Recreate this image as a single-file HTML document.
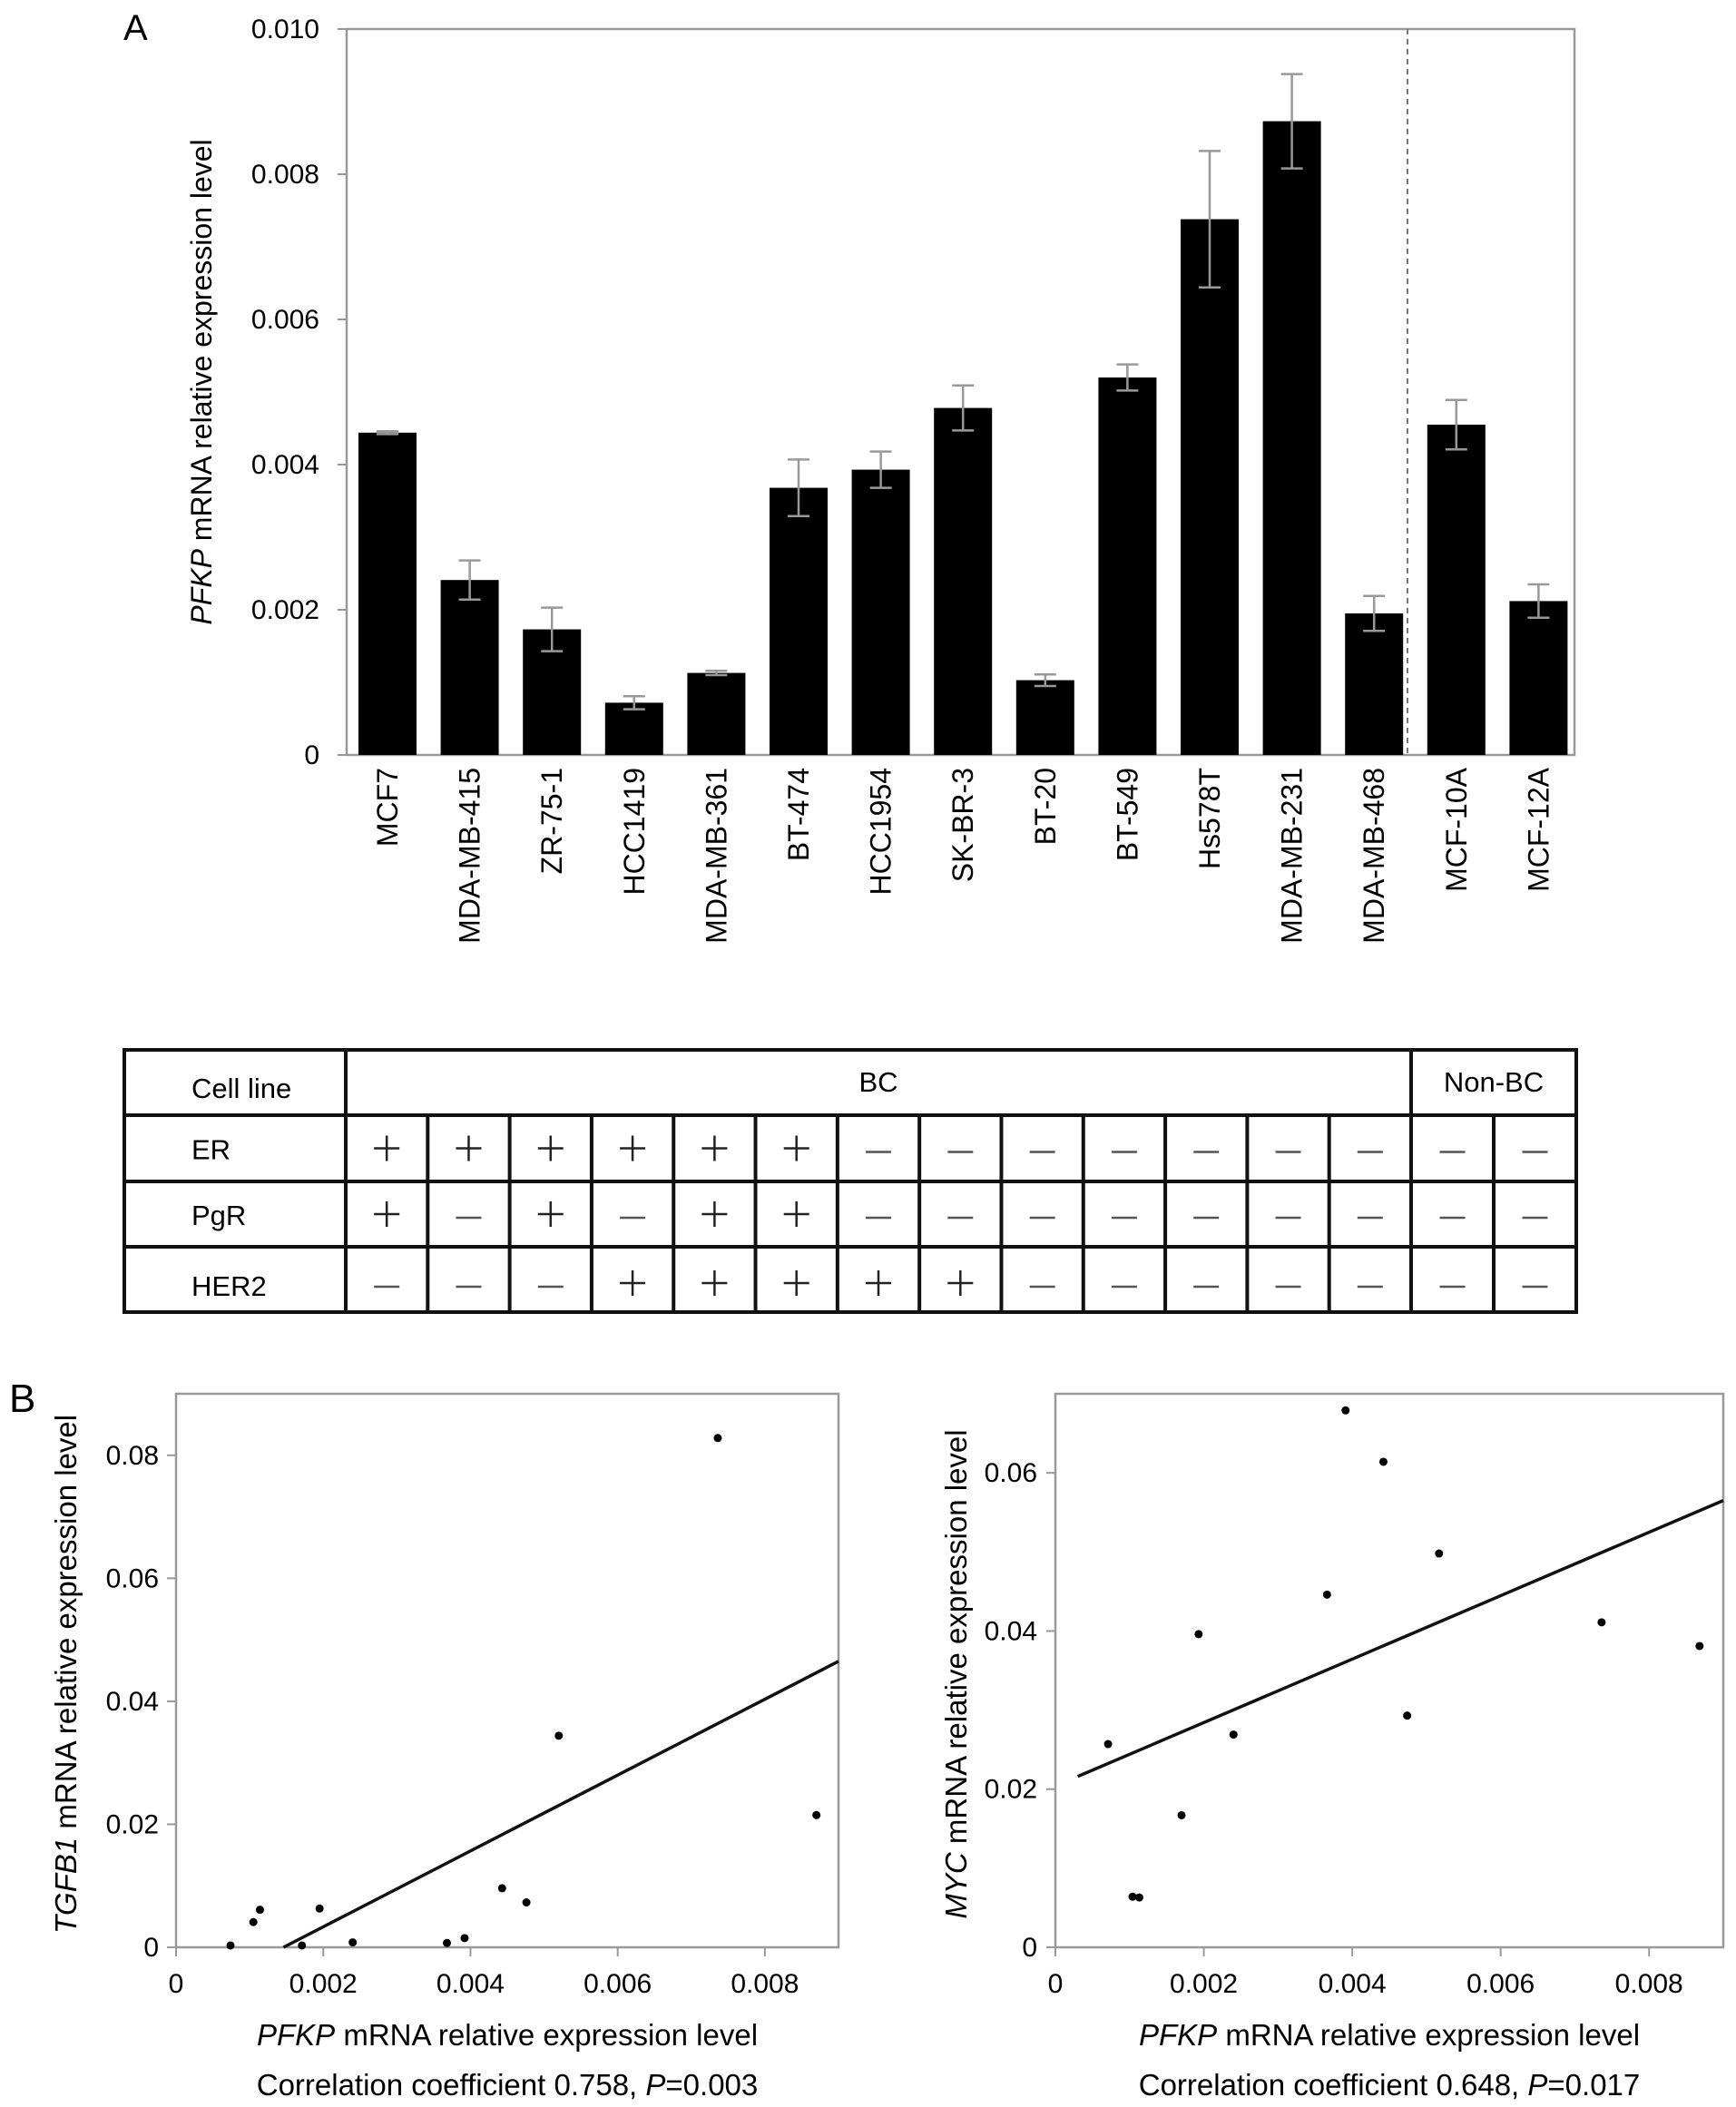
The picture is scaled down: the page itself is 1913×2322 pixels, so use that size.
<!DOCTYPE html>
<html><head><meta charset="utf-8"><style>
html,body{margin:0;padding:0;background:#fff}
svg{display:block;font-family:"Liberation Sans",Arial,sans-serif}
</style></head><body>
<svg id="fig" width="1913" height="2322" viewBox="0 0 1913 2322" xmlns="http://www.w3.org/2000/svg">
<rect width="1913" height="2322" fill="#fff"/>
<text x="136" y="44" font-size="40">A</text>
<text x="10" y="1556" font-size="44">B</text>
<g id="barChart"></g>
<g id="table"></g>
<g id="sc1"></g>
<g id="sc2"></g>
</svg>
<script>
const NS="http://www.w3.org/2000/svg";
// ---- Bar chart data ----
const cellLines=["MCF7","MDA-MB-415","ZR-75-1","HCC1419","MDA-MB-361","BT-474","HCC1954","SK-BR-3","BT-20","BT-549","Hs578T","MDA-MB-231","MDA-MB-468","MCF-10A","MCF-12A"];
const pfkpValues=[0.00444,0.00241,0.00173,0.00072,0.00113,0.00368,0.00393,0.00478,0.00103,0.0052,0.00738,0.00873,0.00195,0.00455,0.00212];
const pfkpErrors=[0.00002,0.00027,0.0003,0.00009,0.00003,0.00039,0.00025,0.00031,0.00008,0.00018,0.00094,0.00065,0.00024,0.00034,0.00023];
const barTicks=[0,0.002,0.004,0.006,0.008,0.010];
const barTickLabels=["0","0.002","0.004","0.006","0.008","0.010"];
// ---- Table data ----
const erStatus=["+","+","+","+","+","+","-","-","-","-","-","-","-","-","-"];
const pgrStatus=["+","-","+","-","+","+","-","-","-","-","-","-","-","-","-"];
const her2Status=["-","-","-","+","+","+","+","+","-","-","-","-","-","-","-"];
// ---- Scatter data ----
const pfkpX=[0.00074,0.00105,0.00114,0.00171,0.00195,0.0024,0.00368,0.00392,0.00443,0.00476,0.0052,0.00736,0.0087];
const tgfb1Y=[0.0003,0.0041,0.0061,0.0003,0.0063,0.0008,0.0007,0.0015,0.0096,0.0073,0.0344,0.0828,0.0215];
const mycX=[0.00071,0.00104,0.00113,0.0017,0.00193,0.0024,0.00366,0.00391,0.00442,0.00474,0.00517,0.00736,0.00868];
const mycY=[0.0257,0.0064,0.0063,0.0167,0.0396,0.0269,0.0446,0.0679,0.0614,0.0293,0.0498,0.0411,0.0381];
const tgfbFit=[[0.00146,0],[0.009,0.0465]];
const mycFit=[[0.0003,0.0216],[0.009,0.0565]];
const scXTicks=[0,0.002,0.004,0.006,0.008];
const scXTickLabels=["0","0.002","0.004","0.006","0.008"];
const tgfbYTicks=[0,0.02,0.04,0.06,0.08];
const tgfbYTickLabels=["0","0.02","0.04","0.06","0.08"];
const mycYTicks=[0,0.02,0.04,0.06];
const mycYTickLabels=["0","0.02","0.04","0.06"];

function el(tag,attrs,parent,txt){const e=document.createElementNS(NS,tag);for(const k in attrs)e.setAttribute(k,attrs[k]);if(txt!==undefined)e.textContent=txt;parent.appendChild(e);return e;}

// ---- Bar chart ----
(function(){
const g=document.getElementById('barChart');
const L=382,R=1735,T=32,B=832;
const y=v=>B-(v/0.010)*(B-T);
const x0=427,step=90.6,bw=64;
const xc=i=>x0+i*step;
const frame=el('rect',{x:L,y:T,width:R-L,height:B-T,fill:'none',stroke:'#999','stroke-width':2.5},g);

barTicks.forEach((t,i)=>{
 const tk=el('line',{x1:L-10,x2:L,y1:y(t),y2:y(t),stroke:'#999','stroke-width':2},g);
 
 const lb=el('text',{x:352,y:y(t)+10,'font-size':30,'text-anchor':'end'},g,barTickLabels[i]);
 
});
const ds=el('line',{x1:1551,x2:1551,y1:T,y2:B,stroke:'#777','stroke-width':2,'stroke-dasharray':'6,5'},g);

pfkpValues.forEach((v,i)=>{
 const cx=xc(i);
 const b=el('rect',{x:cx-bw/2,y:y(v),width:bw,height:B-y(v),fill:'#000'},g);
 
 const e=pfkpErrors[i],hi=y(v+e),lo=y(v-e);
 const eb=el('path',{d:`M${cx},${hi}V${lo}M${cx-12},${hi}H${cx+12}M${cx-12},${lo}H${cx+12}`,stroke:'#999','stroke-width':2.5,fill:'none'},g);
 
 const lb=el('text',{x:0,y:0,'font-size':32,'text-anchor':'end',transform:`translate(${cx+11},846) rotate(-90)`},g,cellLines[i]);
 
});
const yl=el('text',{x:0,y:0,'font-size':32,'text-anchor':'middle',transform:'translate(233,421) rotate(-90)'},g);

el('tspan',{'font-style':'italic'},yl,'PFKP');el('tspan',{},yl,' mRNA relative expression level');
})();

// ---- Table ----
(function(){
const g=document.getElementById('table');
const L=137,R=1737,rows=[1157,1229,1302,1374,1446],c0=381,DV=1555,cw=(DV-381)/13,nw=(R-DV)/2;
const colX=i=> i<13 ? c0+i*cw : DV+(i-13)*nw;
const o=el('rect',{x:L,y:rows[0],width:R-L,height:rows[4]-rows[0],fill:'none',stroke:'#111','stroke-width':4},g);

for(let r=1;r<4;r++){const l=el('line',{x1:L,x2:R,y1:rows[r],y2:rows[r],stroke:'#111','stroke-width':4},g);}
const v=el('line',{x1:c0,x2:c0,y1:rows[0],y2:rows[4],stroke:'#111','stroke-width':4},g);
const v2=el('line',{x1:DV,x2:DV,y1:rows[0],y2:rows[4],stroke:'#111','stroke-width':4},g);
for(let i=1;i<15;i++){if(i===13)continue;const l=el('line',{x1:colX(i),x2:colX(i),y1:rows[1],y2:rows[4],stroke:'#111','stroke-width':4},g);}
const hdr=[["Cell line",211,'start'],["BC",(c0+DV)/2,'middle'],["Non-BC",(DV+R)/2,'middle']];
hdr.forEach(h=>{const t=el('text',{x:h[1],y:h[0]==="Cell line"?1210:1203,'font-size':31,'text-anchor':h[2]},g,h[0]);});
const rowsData=[["ER",erStatus],["PgR",pgrStatus],["HER2",her2Status]];
rowsData.forEach((rd,r)=>{
 const cy=(rows[r+1]+rows[r+2])/2;
 const t=el('text',{x:211,y:cy+12+(r===2?6:0),'font-size':31},g,rd[0]);
 rd[1].forEach((s,i)=>{
  const cx=colX(i)+(i<13?cw:nw)/2, yy=cy+(r===2?4:0);
  const d= s==="+" ? `M${cx-14},${yy}H${cx+14}M${cx},${yy-14}V${yy+14}` : `M${cx-14},${yy+4}H${cx+14}`;
  const p=el('path',{d:d,stroke:s==="+"?'#222':'#555','stroke-width':2.5,fill:'none'},g);
  
 });
});
})();

// ---- Scatter ----
function scatter(id,L,R,T,B,xmax,ymax,xs,ys,fit,yt,ytl,ylabel,caption,ylx,ytlx){
const g=document.getElementById(id);
const x=v=>L+v/xmax*(R-L), y=v=>B-v/ymax*(B-T);
const fr=el('rect',{x:L,y:T,width:R-L,height:B-T,fill:'none',stroke:'#999','stroke-width':2.5},g);

scXTicks.forEach((t,i)=>{
 const tk=el('line',{x1:x(t),x2:x(t),y1:B,y2:B+10,stroke:'#999','stroke-width':2},g);
 const lb=el('text',{x:x(t),y:B+50,'font-size':30,'text-anchor':'middle'},g,scXTickLabels[i]);
});
yt.forEach((t,i)=>{
 const tk=el('line',{x1:L-10,x2:L,y1:y(t),y2:y(t),stroke:'#999','stroke-width':2},g);
 const lb=el('text',{x:ytlx,y:y(t)+10,'font-size':30,'text-anchor':'end'},g,ytl[i]);
});
const fl=el('line',{x1:x(fit[0][0]),y1:y(fit[0][1]),x2:x(fit[1][0]),y2:y(fit[1][1]),stroke:'#111','stroke-width':3.5},g);

xs.forEach((v,i)=>{const c=el('circle',{cx:x(v),cy:y(ys[i]),r:4.5,fill:'#000'},g);});
const xl=el('text',{x:(L+R)/2,y:2254,'font-size':33,'text-anchor':'middle'},g);
el('tspan',{'font-style':'italic'},xl,'PFKP');el('tspan',{},xl,' mRNA relative expression level');
const yl=el('text',{x:0,y:0,'font-size':33,'text-anchor':'middle',transform:`translate(${ylx},1845) rotate(-90)`},g);
el('tspan',{'font-style':'italic'},yl,ylabel);el('tspan',{},yl,' mRNA relative expression level');
const cp=el('text',{x:(L+R)/2,y:2309,'font-size':33,'text-anchor':'middle'},g);
el('tspan',{},cp,'Correlation coefficient '+caption[0]+', ');el('tspan',{'font-style':'italic'},cp,'P');el('tspan',{},cp,'='+caption[1]);
}
scatter('sc1',194,924,1536,2146,0.009,0.09,pfkpX,tgfb1Y,tgfbFit,tgfbYTicks,tgfbYTickLabels,'TGFB1',['0.758','0.003'],84,175);
scatter('sc2',1163,1899,1536,2146,0.009,0.07,mycX,mycY,mycFit,mycYTicks,mycYTickLabels,'MYC',['0.648','0.017'],1065,1143);
</script>
</body></html>
